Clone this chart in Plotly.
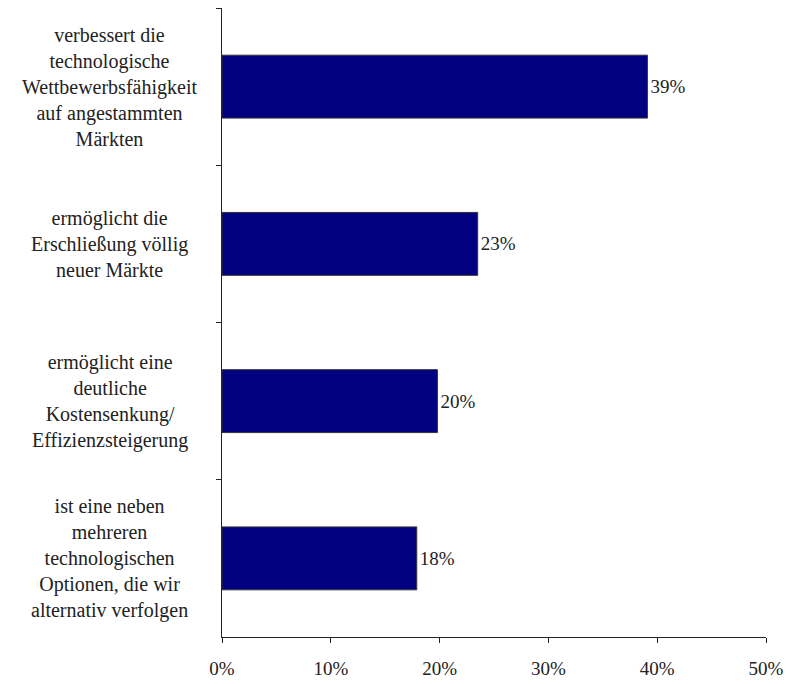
import plotly.graph_objects as go

categories = [
    "verbessert die<br>technologische<br>Wettbewerbsfähigkeit<br>auf angestammten<br>Märkten",
    "ermöglicht die<br>Erschließung völlig<br>neuer Märkte",
    "ermöglicht eine<br>deutliche<br>Kostensenkung/<br>Effizienzsteigerung",
    "ist eine neben<br>mehreren<br>technologischen<br>Optionen, die wir<br>alternativ verfolgen",
]
values = [39.1, 23.5, 19.8, 17.9]
value_labels = ["39%", "23%", "20%", "18%"]
x_ticks = [0, 10, 20, 30, 40, 50]
x_tick_labels = ["0%", "10%", "20%", "30%", "40%", "50%"]

FONT = "'Liberation Serif', 'Times New Roman', Times, serif"
ids = [str(i) for i in range(len(categories))]

fig = go.Figure()
fig.add_trace(go.Bar(
    x=values, y=ids, orientation="h",
    marker=dict(color="#000080", line=dict(color="#333333", width=1)),
    text=value_labels, textposition="outside", cliponaxis=False,
    textfont=dict(family=FONT, size=19, color="#222222"),
    width=0.4, hoverinfo="skip",
))

for cid, cat in zip(ids, categories):
    fig.add_annotation(
        x=-0.206, xref="paper", y=cid, yref="y", text=cat,
        showarrow=False, xanchor="center", yanchor="middle", align="center",
        font=dict(family=FONT, size=20, color="#222222"),
    )

fig.update_layout(
    width=786, height=684,
    margin=dict(l=222, r=20, t=8, b=47),
    paper_bgcolor="white", plot_bgcolor="white",
    showlegend=False,
    font=dict(family=FONT, size=19, color="#222222"),
)
fig.update_xaxes(
    range=[0, 50], tickvals=x_ticks, ticktext=x_tick_labels, automargin=False,
    showgrid=False, zeroline=False, showline=True, linecolor="#222222", linewidth=1,
    ticks="outside", ticklen=5, tickcolor="#222222", ticklabelstandoff=9,
    tickfont=dict(family=FONT, size=19, color="#222222"),
)
fig.update_yaxes(
    type="category", categoryorder="array", categoryarray=ids, automargin=False,
    autorange="reversed", showticklabels=False,
    showgrid=False, zeroline=False, showline=True, linecolor="#222222", linewidth=1,
    ticks="outside", ticklen=5, tickcolor="#222222", tickson="boundaries",
)

fig.write_html("out.html", config={"displayModeBar": False},
               post_script="document.body.style.margin='0';")
